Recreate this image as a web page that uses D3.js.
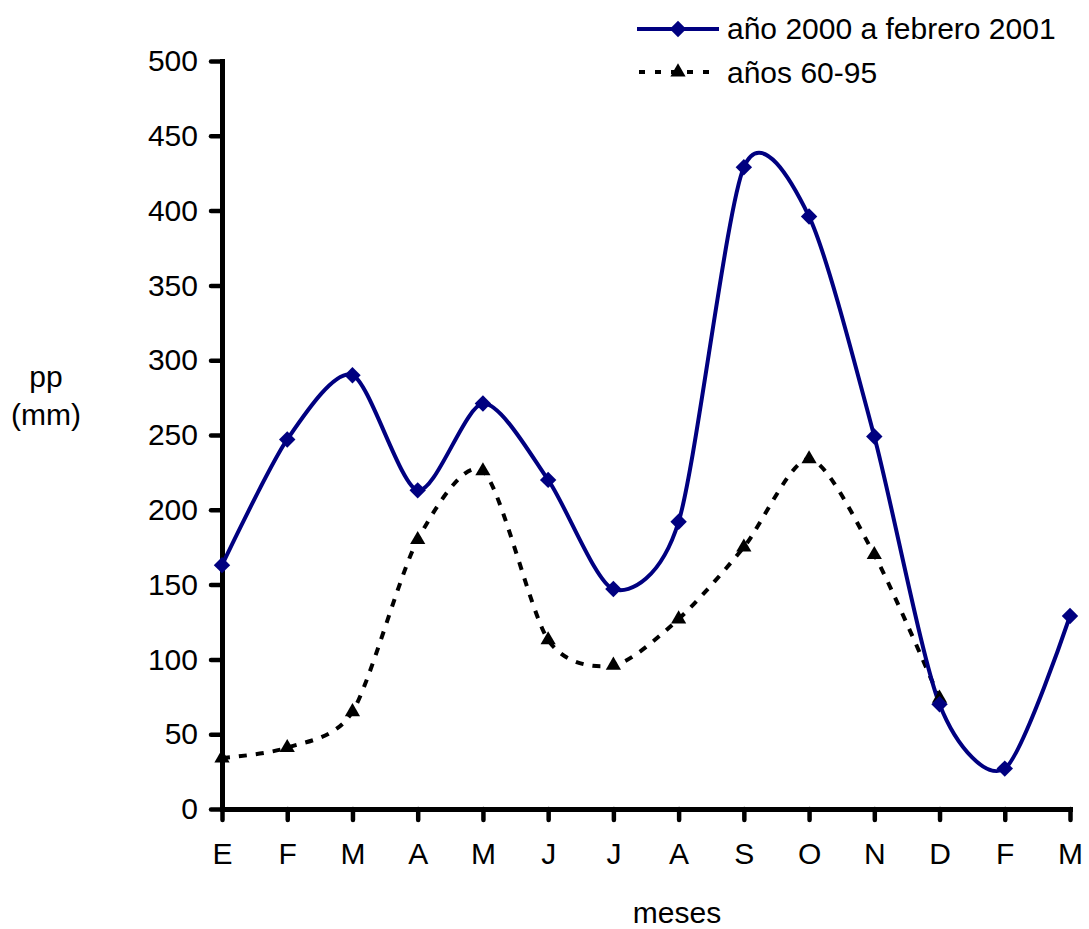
<!DOCTYPE html>
<html>
<head>
<meta charset="utf-8">
<script src="https://cdn.jsdelivr.net/npm/d3@7"></script>
<style>
  body { margin: 0; background: #fff; }
  svg text { font-family: "Liberation Sans", Arial, sans-serif; fill: #000; }
</style>
</head>
<body>
<div id="chart"></div>
<script>
// meses (E..M) y precipitaciones en mm
var months = ["E", "F", "M", "A", "M", "J", "J", "A", "S", "O", "N", "D", "F", "M"];
var pp2000 = [163, 247, 290, 213, 271, 220, 147, 192, 429, 396, 249, 70, 27, 129];
var pp6095 = [34, 41, 65, 180, 226, 113, 96, 127, 175, 234, 170, 74];
var yTicks = [0, 50, 100, 150, 200, 250, 300, 350, 400, 450, 500];
var seriesNames = ["año 2000 a febrero 2001", "años 60-95"];

var W = 1089, H = 929;
var navy = "#000080";
var fontSize = 30;

var svg = d3.select("#chart")
  .append("svg")
    .attr("width", W)
    .attr("height", H);

svg.append("rect").attr("width", W).attr("height", H).attr("fill", "#fff");

var x = d3.scalePoint()
  .domain(d3.range(months.length))
  .range([222, 1070]);

var y = d3.scaleLinear()
  .domain([0, 500])
  .range([809, 61]);

// ejes
svg.append("g")
  .attr("class", "axis")
  .attr("transform", "translate(" + x(0) + ",0)")
  .call(d3.axisLeft(y).tickValues(yTicks).tickSize(11).tickPadding(13).tickSizeOuter(0));

svg.append("g")
  .attr("class", "axis")
  .attr("transform", "translate(0," + y(0) + ")")
  .call(d3.axisBottom(x).tickFormat(function(d) { return months[d]; })
    .tickSize(11).tickPadding(23).tickSizeOuter(0));

svg.selectAll(".axis path")
  .style("stroke", "#000").style("stroke-width", "5px").style("stroke-linecap", "square");
svg.selectAll(".axis line")
  .style("stroke", "#000").style("stroke-width", "4.5px").style("stroke-linecap", "round");
svg.selectAll(".axis text").style("font-size", fontSize + "px");

svg.append("text")
  .attr("x", 677).attr("y", 923)
  .attr("text-anchor", "middle")
  .style("font-size", fontSize + "px")
  .text("meses");

var yl = svg.append("text")
  .attr("text-anchor", "middle")
  .style("font-size", fontSize + "px");
yl.append("tspan").attr("x", 46).attr("y", 387).text("pp");
yl.append("tspan").attr("x", 46).attr("y", 425).text("(mm)");

// lineas
var line = d3.line()
  .x(function(d, i) { return x(i); })
  .y(function(d) { return y(d); })
  .curve(d3.curveCardinal.tension(0.2));

svg.append("path")
  .datum(pp6095)
  .attr("d", line)
  .attr("fill", "none")
  .attr("stroke", "#000")
  .attr("stroke-width", 4)
  .attr("stroke-dasharray", "8,9");

svg.append("path")
  .datum(pp2000)
  .attr("d", line)
  .attr("fill", "none")
  .attr("stroke", navy)
  .attr("stroke-width", 4);

var diamond = d3.symbol().type(d3.symbolSquare).size(135);
var triangle = d3.symbol().type(d3.symbolTriangle).size(100);

svg.selectAll(".tri")
  .data(pp6095)
  .enter().append("path")
  .attr("class", "tri")
  .attr("d", triangle)
  .attr("transform", function(d, i) { return "translate(" + x(i) + "," + y(d) + ")"; })
  .attr("fill", "#000");

svg.selectAll(".dia")
  .data(pp2000)
  .enter().append("path")
  .attr("class", "dia")
  .attr("d", diamond)
  .attr("transform", function(d, i) { return "translate(" + x(i) + "," + y(d) + ") rotate(45)"; })
  .attr("fill", navy);

// leyenda
var leg = svg.append("g");
leg.append("line")
  .attr("x1", 637).attr("x2", 719).attr("y1", 29).attr("y2", 29)
  .attr("stroke", navy).attr("stroke-width", 4);
leg.append("path").attr("d", diamond)
  .attr("transform", "translate(678,29) rotate(45)").attr("fill", navy);
leg.append("text").attr("x", 727).attr("y", 39)
  .style("font-size", fontSize + "px").text(seriesNames[0]);

leg.append("line")
  .attr("x1", 639).attr("x2", 719).attr("y1", 72).attr("y2", 72)
  .attr("stroke", "#000").attr("stroke-width", 4)
  .attr("stroke-dasharray", "6,10");
leg.append("path").attr("d", triangle)
  .attr("transform", "translate(678,72)").attr("fill", "#000");
leg.append("text").attr("x", 727).attr("y", 83)
  .style("font-size", fontSize + "px").text(seriesNames[1]);
</script>
</body>
</html>
